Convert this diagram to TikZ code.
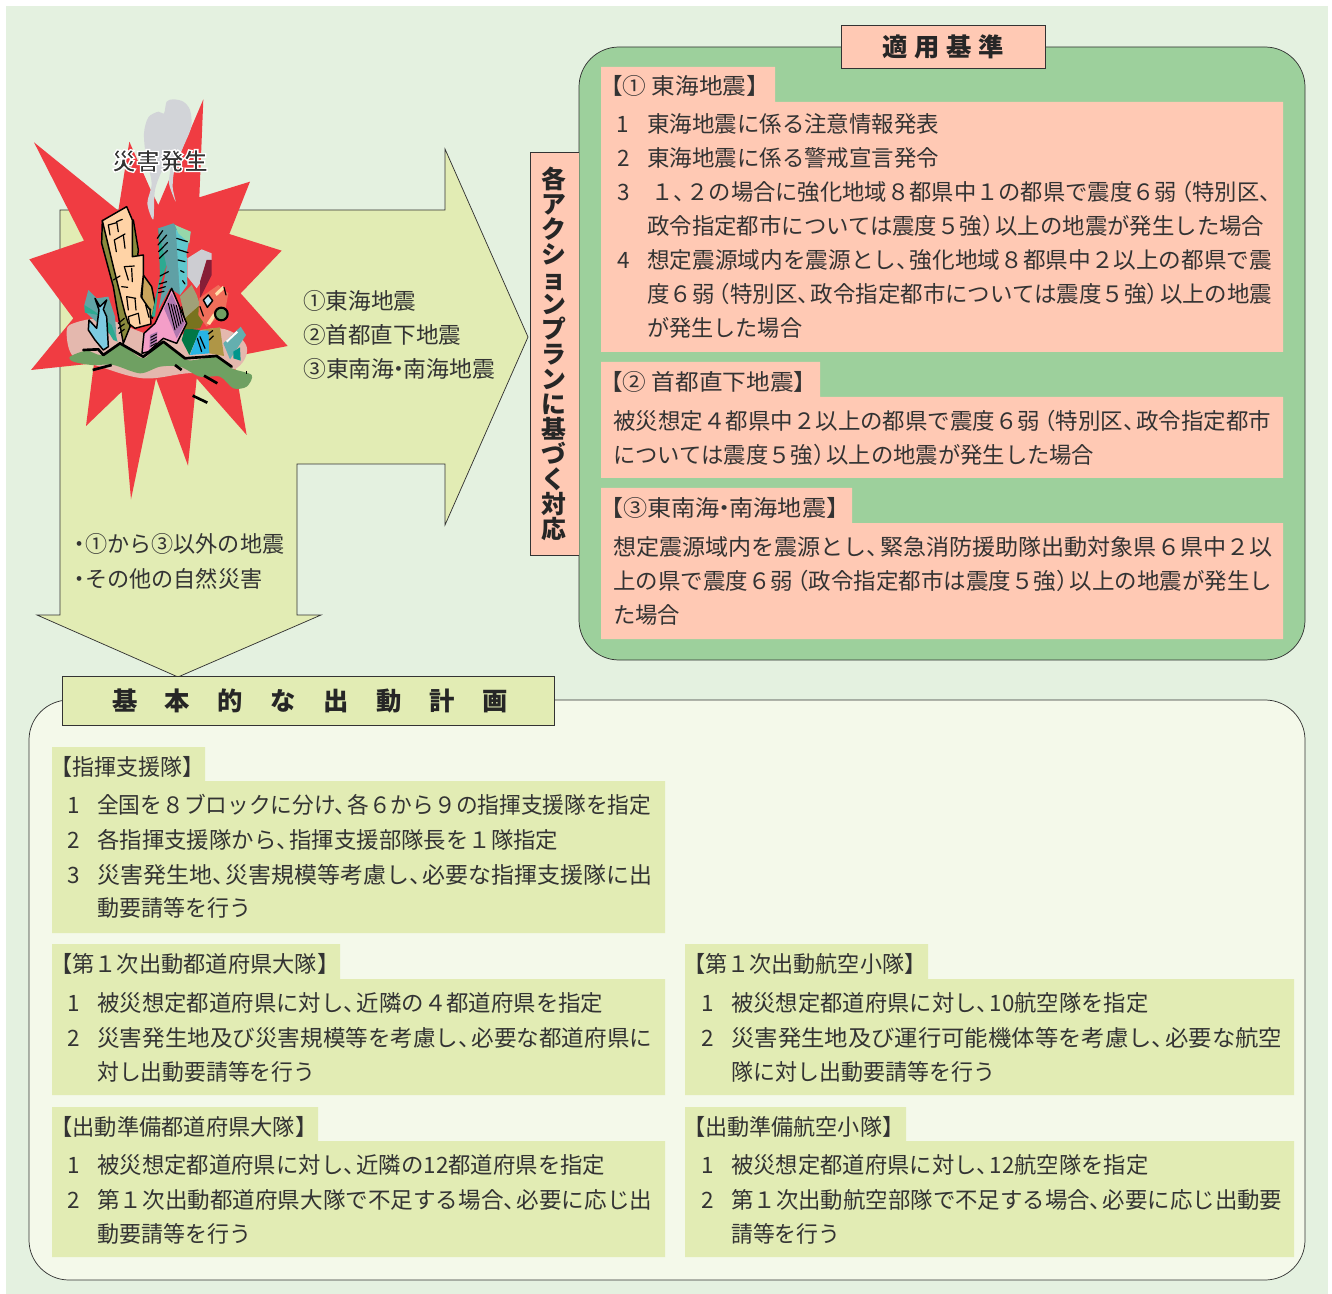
\documentclass[tikz,border=0pt]{standalone}
\usepackage{fontspec}
\setmainfont{Noto Sans CJK JP}
\newfontfamily\vjp[RawFeature=+vert]{Noto Sans CJK JP}
\newdimen\pxu \pxu=.75pt
\newcount\tlc
\definecolor{bgc}{HTML}{E4F1E0}
\definecolor{yg}{HTML}{E2ECB4}
\definecolor{pk}{HTML}{FFC9B4}
\definecolor{gn}{HTML}{9DD09C}
\definecolor{pn}{HTML}{F4F9EA}
\definecolor{tx}{HTML}{333333}
\definecolor{ln}{HTML}{333333}
\definecolor{rd}{HTML}{F03C42}
\definecolor{sm}{HTML}{D2D4D8}
\definecolor{gd}{HTML}{6FA062}
\tikzset{txt/.style={anchor=base west,inner sep=0pt,text=tx,font=\fontsize{16.9}{20}\selectfont},
 num/.style={anchor=base,inner sep=0pt,text=tx,font=\fontsize{16.9}{20}\selectfont},
 frame/.style={draw=ln,line width=.55pt},
 ink/.style={draw=black,line width=1.1pt,line join=round},
 tick/.style={draw=black,line width=.9pt,line cap=round}}
\newcommand\tl[4]{\global\advance\tlc 1 \node[txt] (t\the\tlc) at (#1,#2+8.5) {\resizebox{\dimexpr\numexpr#3-#1\relax\pxu\relax}{\height}{#4}};}
\newcommand\nm[3]{\global\advance\tlc 1 \node[num] (t\the\tlc) at (#1,#2+8.5) {#3};}
\newcommand\Cm{、\kern-.42em}
\newcommand\Lp{\kern-.3em（}
\newcommand\Rp{）\kern-.4em}
\newcommand\Dt{\kern-.3em・\kern-.3em}
\begin{document}
\begin{tikzpicture}[x=.75pt,y=-.75pt]
\useasboundingbox (0,0) rectangle (1332,1294);
\fill[white] (0,0) rectangle (1332,1294);
\fill[bgc] (6,6) rectangle (1328,1294);
% bottom panel
\draw[frame,fill=pn,rounded corners=30pt] (29,700) rectangle (1305,1280);
% green panel
\draw[frame,fill=gn,rounded corners=30pt] (579,47) rectangle (1305,660);
% big arrow
\draw[frame,fill=yg] (60,210) -- (445,210) -- (445,149) -- (528,337) -- (445,525) -- (445,464) -- (297,464) -- (297,615) -- (321,615) -- (178,677) -- (37,615) -- (60,615) -- cycle;
% burst illustration
\begin{scope}[shift={(20,90)},x=.25pt,y=-.25pt]
\fill[rd] (550,28)--(538,322)--(690,275)--(628,432)--(785,482)--(662,610)--(803,768)--(640,800)--(680,1035)--(530,865)--(504,1127)--(408,865)--(333,1228)--(305,905)--(198,1008)--(222,820)--(33,840)--(160,685)--(28,508)--(192,452)--(42,157)--(295,362)--(328,155)--(390,295)--(415,345)--cycle;
\fill[sm] plot[smooth cycle,tension=.5] coordinates {(400,388)(382,340)(395,280)(378,200)(372,130)(385,82)(415,65)(432,70)(440,35)(460,28)(490,35)(510,60)(514,110)(490,170)(465,230)(458,290)(467,335)(447,280)(452,225)(430,235)(405,300)};
% pink ground
\fill[fill={rgb,255:red,228;green,184;blue,174}] plot[smooth cycle,tension=.6] coordinates {(140,730)(160,700)(260,688)(420,740)(600,715)(680,770)(640,840)(500,850)(370,865)(240,830)(160,800)};
\begin{scope}[shift={(165,330)}]
\fill[fill={rgb,255:red,96;green,165;blue,165}] (40,270)--(65,295)--(100,290)--(120,350)--(125,420)--(30,335)--(28,315)--cycle;
\fill[fill={rgb,255:red,45;green,170;blue,145}] (28,315)--(60,335)--(110,375)--(128,425)--(115,420)--(70,345)--(30,338)--cycle;
\filldraw[ink,fill={rgb,255:red,125;green,203;blue,224}] (60,295)--(75,320)--(95,300)--(85,328)--(95,350)--(100,440)--(85,450)--(60,420)--(40,390)--(42,360)--(65,385)--(72,330)--cycle;
\filldraw[ink,fill={rgb,255:red,138;green,138;blue,60}] (82,62)--(80,130)--(115,260)--(125,320)--(145,430)--(165,380)--(190,150)--(175,60)--cycle;
\filldraw[ink,fill={rgb,255:red,201;green,165;blue,92}] (205,225)--(230,260)--(240,310)--(232,355)--(200,300)--cycle;
\filldraw[ink,fill={rgb,255:red,255;green,211;blue,166}] (82,62)--(155,20)--(172,60)--(172,170)--(205,165)--(205,225)--(198,290)--(225,330)--(228,372)--(180,385)--(160,370)--(150,340)--(135,280)--(115,200)--cycle;
\foreach \a/\b/\c/\d in {100/75/105/105, 100/75/125/68, 125/65/130/95, 125/65/142/58, 118/120/124/155, 118/120/150/102, 145/105/150/145, 115/240/135/228, 148/200/160/240, 148/200/178/198, 170/205/172/245, 140/260/158/262, 155/290/160/330, 155/290/182/295, 180/295/183/330, 160/350/165/380, 160/350/190/340, 190/340/195/372, 212/315/222/352, 212/315/228/330, 130/370/148/355, 130/385/148/372, 132/400/148/388}
 \draw[tick] (\a,\b)--(\c,\d);
\end{scope}
\begin{scope}[shift={(390,360)}]
\fill[fill={rgb,255:red,45;green,170;blue,145}] (25,55)--(50,50)--(55,150)--(25,240)--(15,320)--(5,320)--(30,200)--cycle;
\fill[fill={rgb,255:red,96;green,160;blue,165}] (25,55)--(70,40)--(95,60)--(85,130)--(110,225)--(90,255)--(60,235)--(25,300)--(50,170)--cycle;
\fill[fill={rgb,255:red,96;green,200;blue,205}] (78,60)--(122,65)--(110,130)--(112,225)--(90,255)--(82,130)--cycle;
\fill[fill={rgb,255:red,150;green,215;blue,170}] (75,45)--(122,65)--(118,100)--(85,70)--cycle;
\foreach \a/\b/\c/\d in {22/85/38/62, 24/105/50/75, 26/125/52/98, 28/145/52/122, 80/85/112/95, 82/118/114/128, 84/150/105/155, 92/182/102/187, 30/198/55/185, 28/222/50/215, 26/236/46/230, 25/248/42/244, 98/212/105/222}
 \draw[tick] (\a,\b)--(\c,\d);
\fill[fill={rgb,255:red,205;green,205;blue,210}] (112,145)--(155,118)--(185,130)--(185,150)--(170,150)--(150,220)--(140,235)--(112,200)--cycle;
\fill[fill={rgb,255:red,135;green,30;blue,55}] (185,150)--(170,150)--(150,215)--(150,265)--(185,195)--cycle;
\fill[fill={rgb,255:red,0;green,120;blue,70}] (105,355)--(150,360)--(118,435)--(95,390)--cycle;
\fill[fill={rgb,255:red,160;green,160;blue,120}] (125,225)--(90,260)--(105,325)--(150,285)--(140,255)--cycle;
\fill[fill={rgb,255:red,120;green,115;blue,30}] (105,325)--(150,285)--(160,335)--(150,355)--(105,358)--cycle;
\fill[fill={rgb,255:red,240;green,110;blue,90}] (148,265)--(205,225)--(235,250)--(225,305)--(170,350)--(145,315)--cycle;
\fill[fill={rgb,255:red,255;green,225;blue,170}] (195,250)--(218,228)--(225,235)--(200,258)--cycle;
\fill[fill={rgb,255:red,255;green,225;blue,170}] (170,340)--(190,310)--(197,318)--(180,345)--cycle;
\filldraw[ink,fill={rgb,255:red,190;green,230;blue,245}] (160,270)--(175,255)--(188,272)--(172,292)--cycle;
\filldraw[draw=black,line width=1.6pt,fill=gd] (214,312) circle (19);
\draw[tick] (150,290)--(160,318);
\draw[tick] (222,232)--(228,255);
\filldraw[fill={rgb,255:red,40;green,180;blue,230},draw=none] (120,435)--(148,362)--(178,360)--(180,430)--cycle;
\filldraw[fill={rgb,255:red,175;green,150;blue,70},draw=none] (150,360)--(210,352)--(222,438)--(178,430)--(176,362)--cycle;
\foreach \a/\b/\c/\d in {142/385/155/425, 150/380/165/415, 175/372/188/362, 178/390/190/378}
 \draw[tick] (\a,\b)--(\c,\d);
\filldraw[fill={rgb,255:red,100;green,175;blue,175},draw=none] (220,400)--(272,350)--(288,375)--(240,448)--cycle;
\fill[fill={rgb,255:red,0;green,150;blue,140}] (250,425)--(270,412)--(272,452)--(250,445)--cycle;
\draw[white,line width=1.5pt] (230,395)--(262,365);
\end{scope}
% pink tower
\filldraw[ink,fill={rgb,255:red,244;green,158;blue,200}] (455,595)--(500,700)--(470,760)--(430,745)--(385,785)--(366,790)--(372,730)--(405,700)--cycle;
\fill[fill={rgb,255:red,176;green,120;blue,176}] (455,610)--(495,700)--(470,745)--(432,655)--cycle;
\fill[fill={rgb,255:red,176;green,120;blue,176}] (390,735)--(412,725)--(410,755)--(388,775)--cycle;
\foreach \i in {0,1,2,3,4,5} \draw[tick,line width=.7pt] (445+\i*8,640+\i*2)--(465+\i*6,720-\i*6);
\foreach \i in {0,1,2,3} \draw[tick,line width=.7pt] (392,742+\i*9)--(410,732+\i*9);
% ground
\fill[gd] plot[smooth cycle,tension=.5] coordinates {(150,800)(200,782)(245,795)(300,762)(370,805)(430,755)(500,810)(590,800)(635,835)(695,855)(680,890)(640,895)(600,860)(540,860)(480,830)(420,830)(360,850)(280,825)(215,825)(160,815)};
\draw[line width=2pt,black,line join=round,line cap=round] (190,780)--(235,778)--(250,795)--(300,760)--(370,800)--(430,755)--(495,805)--(590,798)--(635,830);
\draw[line width=2pt,black] (218,840)--(275,825) (465,825)--(485,840) (552,857)--(592,880) (518,917)--(562,938);
\draw[black,line width=.4pt] (680,843)--(680,853);
\end{scope}
\node[inner sep=0pt,text=tx,font=\fontsize{17.8}{20}\bfseries\selectfont] (disaster) at (160,161) {\special{pdf:code q 2 Tr 1 1 1 RG 1.0 w}\resizebox{96\pxu}{\height}{災害発生}\special{pdf:code Q}};
% arrow labels
\tl{303}{301}{416}{①東海地震}
\tl{303}{335}{461}{②首都直下地震}
\tl{303}{369}{495}{③東南海\Dt 南海地震}
\tl{73}{544}{284}{\kern-.2em・\kern-.25em ①から③以外の地震}
\tl{73}{579}{262}{\kern-.2em・\kern-.25em その他の自然災害}
% vertical box
\draw[frame,fill=pk] (579,152) -- (530,152) -- (530,555) -- (579,555);
\node[inner sep=0pt,text=black!85,align=center,font=\fontsize{18.6}{18.75}\bfseries\selectfont] (vert) at (554,354) {\vjp\bfseries 各\\ア\\ク\\シ\\ョ\\ン\\プ\\ラ\\ン\\に\\基\\づ\\く\\対\\応};
% title right
\draw[frame,fill=pk] (841,25) rectangle (1045,68);
\node[inner sep=0pt,text=black!85,font=\fontsize{19}{22}\bfseries\selectfont] (titleR) at (943,47) {\hbox to 122\pxu{適\hfil 用\hfil 基\hfil 準}};
% title bottom
\draw[frame,fill=yg] (62,676) rectangle (554,725);
\node[inner sep=0pt,text=black!85,font=\fontsize{19}{22}\bfseries\selectfont] (titleB) at (310,701) {\hbox to 396\pxu{基\hfil 本\hfil 的\hfil な\hfil 出\hfil 動\hfil 計\hfil 画}};
% pink boxes
\fill[pk] (601,67) rectangle (775,102) (601,102) rectangle (1283,352);
\fill[pk] (601,362) rectangle (820,397) (601,397) rectangle (1283,478);
\fill[pk] (601,488) rectangle (852,523) (601,523) rectangle (1283,639);
% yg boxes
\fill[yg] (52,747) rectangle (205,781) (52,781) rectangle (665,933);
\fill[yg] (52,944) rectangle (340,979) (52,979) rectangle (665,1095);
\fill[yg] (685,944) rectangle (928,979) (685,979) rectangle (1294,1095);
\fill[yg] (52,1107) rectangle (318,1141) (52,1141) rectangle (665,1257);
\fill[yg] (685,1107) rectangle (906,1141) (685,1141) rectangle (1294,1257);
% right text
\tl{599}{86}{770}{【① 東海地震】}
\nm{623}{124}{1}\tl{647}{124}{939}{東海地震に係る注意情報発表}
\nm{624}{158}{2}\tl{647}{158}{939}{東海地震に係る警戒宣言発令}
\nm{624}{192}{3}\tl{651}{192}{1272}{１\Cm ２の場合に強化地域８都県中１の都県で震度６弱\Lp 特別区\Cm}
\tl{647}{226}{1264}{政令指定都市については震度５強\Rp 以上の地震が発生した場合}
\nm{624}{260}{4}\tl{647}{260}{1272}{想定震源域内を震源とし\Cm 強化地域８都県中２以上の都県で震}
\tl{647}{294}{1272}{度６弱\Lp 特別区\Cm 政令指定都市については震度５強\Rp 以上の地震}
\tl{647}{328}{802}{が発生した場合}
\tl{599}{382}{817}{【② 首都直下地震】}
\tl{613}{421}{1271}{被災想定４都県中２以上の都県で震度６弱\Lp 特別区\Cm 政令指定都市}
\tl{613}{455}{1094}{については震度５強\Rp 以上の地震が発生した場合}
\tl{599}{508}{850}{【③東南海\Dt 南海地震】}
\tl{613}{547}{1272}{想定震源域内を震源とし\Cm 緊急消防援助隊出動対象県６県中２以}
\tl{613}{581}{1272}{上の県で震度６弱\Lp 政令指定都市は震度５強\Rp 以上の地震が発生し}
\tl{613}{615}{680}{た場合}
% bottom text
\tl{50}{767}{204}{【指揮支援隊】}
\nm{74}{805}{1}\tl{97}{805}{651}{全国を８ブロックに分け\Cm 各６から９の指揮支援隊を指定}
\nm{74}{840}{2}\tl{97}{840}{558}{各指揮支援隊から\Cm 指揮支援部隊長を１隊指定}
\nm{74}{875}{3}\tl{97}{875}{652}{災害発生地\Cm 災害規模等考慮し\Cm 必要な指揮支援隊に出}
\tl{97}{908}{251}{動要請等を行う}
\tl{50}{964}{339}{【第１次出動都道府県大隊】}
\nm{74}{1003}{1}\tl{97}{1003}{603}{被災想定都道府県に対し\Cm 近隣の４都道府県を指定}
\nm{74}{1038}{2}\tl{97}{1038}{652}{災害発生地及び災害規模等を考慮し\Cm 必要な都道府県に}
\tl{97}{1072}{315}{対し出動要請等を行う}
\tl{683}{964}{926}{【第１次出動航空小隊】}
\nm{708}{1003}{1}\tl{731}{1003}{1148}{被災想定都道府県に対し\Cm 10航空隊を指定}
\nm{708}{1038}{2}\tl{731}{1038}{1282}{災害発生地及び運行可能機体等を考慮し\Cm 必要な航空}
\tl{731}{1072}{995}{隊に対し出動要請等を行う}
\tl{50}{1127}{317}{【出動準備都道府県大隊】}
\nm{74}{1165}{1}\tl{97}{1165}{605}{被災想定都道府県に対し\Cm 近隣の12都道府県を指定}
\nm{74}{1200}{2}\tl{97}{1200}{652}{第１次出動都道府県大隊で不足する場合\Cm 必要に応じ出}
\tl{97}{1234}{251}{動要請等を行う}
\tl{683}{1127}{904}{【出動準備航空小隊】}
\nm{708}{1165}{1}\tl{731}{1165}{1148}{被災想定都道府県に対し\Cm 12航空隊を指定}
\nm{708}{1200}{2}\tl{731}{1200}{1282}{第１次出動航空部隊で不足する場合\Cm 必要に応じ出動要}
\tl{731}{1234}{840}{請等を行う}
\end{tikzpicture}
\end{document}
